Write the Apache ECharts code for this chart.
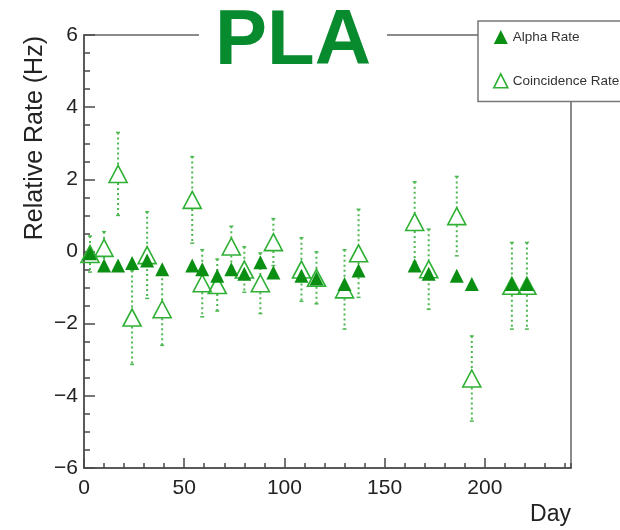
<!DOCTYPE html>
<html>
<head>
<meta charset="utf-8">
<script src="https://cdn.jsdelivr.net/npm/echarts@6/dist/echarts.min.js"></script>
<style>
  html, body { margin: 0; padding: 0; background: #fff; }
  #chart { width: 620px; height: 530px; }
</style>
</head>
<body>
<div id="chart"></div>
<script>
// Measurement days (days since start of run)
const days = [3, 10, 17, 24, 31.5, 39, 54, 59, 66.5, 73.5, 80, 88, 94.5, 108.5, 116, 130, 137, 165, 172, 186, 193.5, 213.5, 221];
// Alpha rate relative to the first measurement (Hz)
const alphaRate = [-0.05, -0.39, -0.39, -0.32, -0.25, -0.49, -0.39, -0.49, -0.67, -0.49, -0.62, -0.30, -0.58, -0.67, -0.75, -0.90, -0.53, -0.39, -0.62, -0.67, -0.90, -0.90, -0.90];
// Coincidence rate relative to the first measurement (Hz) and its uncertainty
const coincidenceRate = [-0.07, 0.10, 2.15, -1.83, -0.10, -1.60, 1.43, -0.88, -0.93, 0.14, -0.50, -0.88, 0.26, -0.50, -0.73, -1.05, -0.05, 0.82, -0.49, 0.98, -3.52, -0.95, -0.95];
const coincidenceErr = [0.50, 0.45, 1.15, 1.30, 1.20, 1.00, 1.20, 0.93, 0.72, 0.56, 0.63, 0.84, 0.65, 0.88, 0.72, 1.10, 1.22, 1.11, 1.11, 1.10, 1.18, 1.20, 1.20];
// Axis settings
const dayRange = [0, 243];
const rateRange = [-6, 6];
const seriesNames = ['Alpha Rate', 'Coincidence Rate'];

const FONT = 'Liberation Sans, Arial, Helvetica, sans-serif';
const AXIS = '#4a4a4a';
const FILLED = '#0b8f12';
const OPEN = '#2fb034';
const ERR = '#4cb84f';

const chart = echarts.init(document.getElementById('chart'), null, { renderer: 'canvas' });

const option = {
  animation: false,
  backgroundColor: '#fff',
  title: {
    text: 'PLA',
    left: 199,
    top: 3,
    padding: [0, 16],
    backgroundColor: '#fff',
    z: 10,
    textStyle: { fontSize: 78, fontWeight: 'bold', color: '#088a2e', fontFamily: FONT, lineHeight: 78 }
  },
  legend: {
    orient: 'vertical',
    left: 478,
    top: 21,
    padding: [9, 14, 13, 15],
    itemWidth: 14,
    itemHeight: 14,
    itemGap: 29,
    itemTextGap: 10,
    backgroundColor: '#fff',
    borderColor: '#777',
    borderWidth: 1.5,
    z: 10,
    textStyle: { fontSize: 13.5, color: '#333', fontFamily: FONT },
    data: [
      { name: seriesNames[0], icon: 'triangle', itemStyle: { color: FILLED } },
      { name: seriesNames[1], icon: 'triangle', itemStyle: { color: 'rgba(255,255,255,0)', borderColor: OPEN, borderWidth: 1.6 } }
    ]
  },
  grid: {
    left: 84, right: 49, top: 35, bottom: 62,
    show: true, borderColor: '#666', borderWidth: 1.5, backgroundColor: 'rgba(0,0,0,0)'
  },
  xAxis: [
    {
      type: 'value', min: dayRange[0], max: dayRange[1], interval: 50,
      position: 'bottom',
      axisLine: { show: true, onZero: false, lineStyle: { color: AXIS, width: 1.5 } },
      axisTick: { show: true, inside: true, length: 10, lineStyle: { color: AXIS, width: 1.5 } },
      axisLabel: { show: true, margin: 10, fontSize: 21, color: '#222', fontFamily: FONT, showMaxLabel: false },
      splitLine: { show: false }
    },
    {
      type: 'value', min: dayRange[0], max: dayRange[1], interval: 10,
      position: 'bottom', offset: 0,
      axisLine: { show: false, onZero: false },
      axisTick: { show: true, inside: true, length: 5, lineStyle: { color: AXIS, width: 1.5 } },
      axisLabel: { show: false },
      splitLine: { show: false }
    }
  ],
  yAxis: {
    type: 'value', min: rateRange[0], max: rateRange[1], interval: 2,
    axisLine: { show: true, onZero: false, lineStyle: { color: AXIS, width: 1.5 } },
    axisTick: { show: true, inside: true, length: 11, lineStyle: { color: AXIS, width: 1.5 } },
    minorTick: { show: true, splitNumber: 4, length: 6, lineStyle: { color: AXIS, width: 1.5 } },
    axisLabel: {
      margin: 6, fontSize: 21, color: '#222', fontFamily: FONT,
      formatter: v => String(v).replace('-', '\u2212')
    },
    splitLine: { show: false }
  },
  graphic: [
    {
      type: 'text', x: 35, y: 36, rotation: Math.PI / 2,
      style: { text: 'Relative Rate (Hz)', align: 'right', verticalAlign: 'middle', fontSize: 25, fill: '#222', fontFamily: FONT }
    },
    {
      type: 'text', x: 571, y: 515,
      style: { text: 'Day', align: 'right', verticalAlign: 'middle', fontSize: 23, fill: '#222', fontFamily: FONT }
    }
  ],
  series: [
    {
      // dotted vertical uncertainty bars, with a gap around the marker
      type: 'custom',
      xAxisIndex: 0, yAxisIndex: 0,
      z: 2,
      silent: true,
      data: days.map((d, i) => [d, coincidenceRate[i], coincidenceErr[i]]),
      renderItem: function (params, api) {
        const x = api.value(0), v = api.value(1), e = api.value(2);
        const top = api.coord([x, v + e]);
        const mid = api.coord([x, v]);
        const bot = api.coord([x, v - e]);
        const gap = 9;
        const dotted = { stroke: ERR, lineWidth: 2, lineDash: [2, 3] };
        const solid = { stroke: ERR, lineWidth: 1.5 };
        const children = [];
        if (mid[1] - gap > top[1]) {
          children.push({ type: 'line', shape: { x1: top[0], y1: top[1], x2: mid[0], y2: mid[1] - gap }, style: dotted });
        }
        if (bot[1] > mid[1] + gap) {
          children.push({ type: 'line', shape: { x1: mid[0], y1: mid[1] + gap, x2: bot[0], y2: bot[1] }, style: dotted });
        }
        children.push({ type: 'line', shape: { x1: top[0] - 2, y1: top[1], x2: top[0] + 2, y2: top[1] }, style: solid });
        children.push({ type: 'line', shape: { x1: bot[0] - 2, y1: bot[1], x2: bot[0] + 2, y2: bot[1] }, style: solid });
        return { type: 'group', children: children };
      }
    },
    {
      name: seriesNames[1],
      type: 'scatter',
      xAxisIndex: 0, yAxisIndex: 0,
      z: 3,
      symbol: 'triangle',
      symbolSize: [18, 17],
      itemStyle: { color: 'rgba(255,255,255,0)', borderColor: OPEN, borderWidth: 1.6, opacity: 1 },
      data: days.map((d, i) => [d, coincidenceRate[i]])
    },
    {
      name: seriesNames[0],
      type: 'scatter',
      xAxisIndex: 0, yAxisIndex: 0,
      z: 4,
      symbol: 'triangle',
      symbolSize: [14, 14],
      itemStyle: { color: FILLED, opacity: 1 },
      data: days.map((d, i) => [d, alphaRate[i]])
    }
  ]
};

chart.setOption(option);
</script>
</body>
</html>
